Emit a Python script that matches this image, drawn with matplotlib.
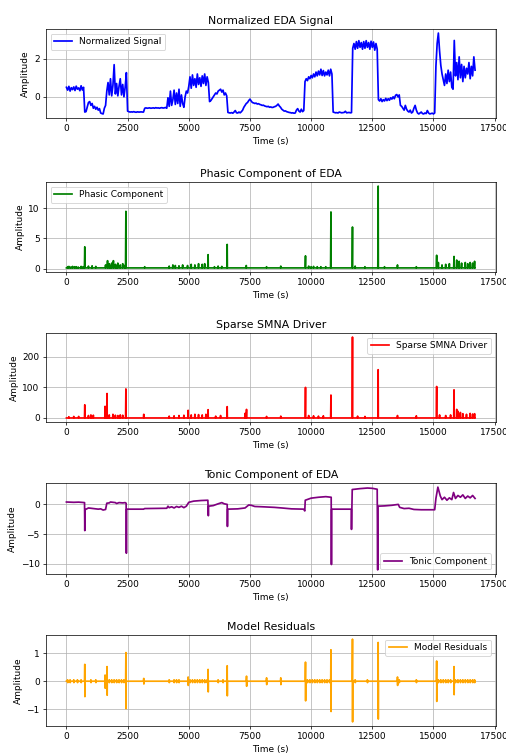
import numpy as np
import matplotlib
matplotlib.use("Agg")
import matplotlib.pyplot as plt

# ---------------------------------------------------------------------------
# Normalized EDA signal, sampled every 50 s from 0 s to 16700 s
# ---------------------------------------------------------------------------
eda_step = 50
eda_norm = [
    0.50, 0.35, 0.55, 0.30, 0.48, 0.38, 0.52, 0.33, 0.56, 0.40,
    0.47, 0.32, 0.58, 0.36, 0.50, -0.80, -0.78, -0.55, -0.30, -0.25,
    -0.45, -0.35, -0.60, -0.50, -0.65, -0.55, -0.70, -0.62, -0.85, -0.88,
    -0.90, -0.60, -0.45, 0.30, 0.75, 0.10, 0.95, 0.05, 0.60, 1.69,
    0.15, 0.70, 0.05, 0.55, 0.95, 0.10, 0.65, 0.00, 0.50, 1.27,
    -0.75, -0.78, -0.80, -0.79, -0.80, -0.78, -0.80, -0.81, -0.79, -0.80,
    -0.80, -0.79, -0.80, -0.80, -0.60, -0.58, -0.60, -0.59, -0.58, -0.60,
    -0.59, -0.58, -0.60, -0.57, -0.59, -0.58, -0.60, -0.58, -0.57, -0.59,
    -0.58, -0.56, -0.60, -0.05, -0.50, 0.30, -0.45, -0.15, 0.35, -0.40,
    0.20, -0.35, 0.40, -0.50, 0.10, -0.35, -0.55, 0.00, 0.30, 0.20,
    0.55, 1.05, 0.45, 1.15, 0.60, 0.95, 0.50, 1.20, 0.65, 1.00,
    0.55, 1.10, 0.70, 1.20, 0.60, 1.05, 0.75, -0.25, -0.20, -0.10,
    0.00, 0.10, 0.20, 0.15, 0.30, 0.35, 0.40, 0.25, 0.35, 0.10,
    0.20, 0.05, -0.82, -0.84, -0.85, -0.83, -0.86, -0.80, -0.72, -0.84,
    -0.85, -0.80, -0.84, -0.78, -0.70, -0.55, -0.45, -0.35, -0.30, -0.20,
    -0.12, -0.22, -0.30, -0.32, -0.35, -0.33, -0.38, -0.36, -0.40, -0.42,
    -0.45, -0.44, -0.48, -0.50, -0.52, -0.50, -0.55, -0.53, -0.56, -0.55,
    -0.52, -0.50, -0.45, -0.38, -0.48, -0.55, -0.65, -0.70, -0.75, -0.74,
    -0.78, -0.80, -0.82, -0.83, -0.85, -0.84, -0.86, -0.85, -0.70, -0.62,
    -0.75, -0.80, -0.65, -0.78, -0.72, 0.80, 0.95, 0.85, 1.05, 0.95,
    1.12, 1.00, 1.20, 1.05, 1.30, 1.10, 1.35, 1.15, 1.45, 1.12,
    1.38, 1.10, 1.30, 1.15, 1.40, 1.10, 1.45, 1.20, -0.80, -0.82,
    -0.84, -0.83, -0.85, -0.80, -0.82, -0.84, -0.83, -0.82, -0.76, -0.84,
    -0.83, -0.82, -0.84, -0.83, 2.55, 2.80, 2.50, 2.90, 2.55, 2.95,
    2.60, 2.85, 2.50, 2.90, 2.55, 2.95, 2.60, 2.85, 2.50, 2.92,
    2.60, 2.88, 2.45, 2.80, 2.50, -0.15, -0.22, -0.10, -0.25, -0.15,
    -0.22, -0.08, -0.20, -0.10, -0.18, -0.05, -0.12, 0.00, -0.10, 0.08,
    0.12, 0.00, 0.10, -0.45, -0.50, -0.60, -0.70, -0.45, -0.65, -0.75,
    -0.80, -0.70, -0.85, -0.80, -0.60, -0.45, -0.70, -0.85, -0.90, -0.85,
    -0.80, -0.88, -0.90, -0.85, -0.88, -0.72, -0.85, -0.90, -0.88, -0.86,
    -0.90, -0.85, 1.60, 2.80, 3.35, 2.40, 1.65, 1.20, 0.90, 0.60,
    1.20, 0.70, 1.40, 0.80, 1.30, 0.50, 0.40, 2.96, 1.10, 1.80,
    0.90, 2.10, 1.00, 1.70, 0.80, 1.60, 1.00, 1.50, 1.20, 1.80,
    0.95, 1.60, 1.10, 2.10, 1.40,
]

# ---------------------------------------------------------------------------
# Phasic component: baseline level plus peak events (time, amplitude)
# ---------------------------------------------------------------------------
phasic_base = 0.1
phasic_t = [50, 100, 180, 250, 330, 400, 480, 600, 680, 750, 900, 1050, 1200,
            1600, 1680, 1750, 1800, 1850, 1920, 2000, 2050, 2100, 2200, 2300,
            2380, 2430, 3200, 4200, 4350, 4450, 4600, 4750, 4950, 5100, 5250,
            5400, 5550, 5650, 5790, 6050, 6200, 6350, 6570, 7350, 8180, 8760,
            9770, 9900, 10000, 10100, 10250, 10400, 10600, 10810, 11690,
            11800, 12200, 12740, 13000, 13530, 14300, 15130, 15200, 15350,
            15500, 15650, 15840, 15950, 16050, 16150, 16300, 16400, 16500,
            16600, 16680]
phasic_v = [0.30, 0.35, 0.25, 0.35, 0.30, 0.30, 0.25, 0.35, 0.30, 3.6, 0.4,
            0.45, 0.35, 0.6, 1.3, 0.8, 0.5, 0.9, 1.3, 0.7, 0.5, 0.9, 0.6,
            0.8, 0.5, 9.5, 0.3, 0.4, 0.6, 0.5, 0.45, 0.6, 0.5, 0.7, 0.6,
            0.8, 0.7, 0.8, 2.3, 0.3, 0.4, 0.35, 4.0, 0.5, 0.3, 0.4,
            2.1, 0.4, 0.3, 0.35, 0.3, 0.3, 0.3, 9.4, 6.9,
            0.4, 0.3, 13.7, 0.3, 0.6, 0.3, 2.2, 1.0, 0.6,
            0.7, 0.8, 2.0, 1.4, 1.2, 0.9, 1.0, 0.8, 1.0,
            0.9, 1.2]

# ---------------------------------------------------------------------------
# Sparse SMNA driver: impulse events (time, amplitude)
# ---------------------------------------------------------------------------
smna_t = [100, 300, 500, 750, 900, 1000, 1100, 1580, 1660, 1750, 1900, 2000,
          2100, 2200, 2300, 2430, 3160, 4200, 4400, 4600, 4800, 4975, 5100,
          5250, 5400, 5550, 5700, 5790, 6100, 6300, 6570, 7300, 7360, 8180,
          8760, 9770, 9900, 10100, 10300, 10500, 10810, 11690, 11900, 12200,
          12740, 13530, 14300, 15130, 15250, 15500, 15700, 15840, 15950,
          16000, 16100, 16200, 16350, 16500, 16600, 16680]
smna_v = [4, 5, 5, 43, 8, 10, 9, 38, 80, 10, 12, 9,
          8, 10, 9, 95, 12, 6, 7, 8, 9, 25, 10,
          12, 11, 10, 12, 27, 6, 8, 37, 15, 28, 5,
          6, 100, 8, 7, 6, 7, 75, 265, 6, 5,
          158, 8, 7, 103, 10, 8, 10, 92, 28,
          22, 18, 14, 12, 15, 13, 14]

# ---------------------------------------------------------------------------
# Tonic component: breakpoints (time, level)
# ---------------------------------------------------------------------------
tonic_t = [0, 300, 500, 740, 750, 760, 900, 1000, 1100, 1200, 1300, 1400,
           1500, 1600, 1650, 1750, 1800, 1900, 2000, 2050, 2150, 2300, 2400,
           2440, 2450, 2460, 3150, 3200, 4100, 4150, 4200, 4300, 4400, 4500,
           4600, 4700, 4800, 4900, 5000, 5200, 5500, 5780, 5800, 5810, 6000,
           6200, 6350, 6450, 6570, 6580, 6590, 7000, 7300, 7450, 7550, 7700,
           8000, 8500, 8800, 9200, 9700, 9740, 9760, 10000, 10300, 10600,
           10820, 10830, 10840, 11640, 11650, 11680, 12000, 12300, 12500,
           12700, 12720, 12730, 13000, 13300, 13560, 13620, 13800, 14000,
           14200, 14500, 15050, 15100, 15180, 15280, 15350, 15450, 15550,
           15650, 15750, 15820, 15900, 16000, 16100, 16200, 16300, 16400,
           16500, 16600, 16700]
tonic_v = [0.40, 0.35, 0.38, 0.30, -4.4, -0.90, -0.60, -0.65, -0.70, -0.75,
           -0.80, -0.75, -0.95, -0.85, 0.20, 0.25, 0.40, 0.35, 0.30, 0.15,
           0.30, 0.25, 0.30, 0.20, -8.2, -0.80, -0.80, -0.70, -0.65, -0.30,
           -0.55, -0.40, -0.60, -0.35, -0.50, -0.30, -0.55, -0.30, 0.35,
           0.55, 0.65, 0.70, -1.9, -0.30, -0.20, 0.10, 0.30, 0.10, 0.00,
           -3.7, -0.80, -0.75, -0.60, -0.10, -0.15, -0.35, -0.40, -0.50,
           -0.60, -0.75, -0.80, -1.10, 0.70, 1.05, 1.20, 1.30, 1.20, -10.1,
           -0.80, -0.80, -4.2, 2.50, 2.65, 2.75, 2.70, 2.55, -11.0, -0.30,
           -0.25, -0.15, 0.00, -0.50, -0.70, -0.65, -0.85, -0.90, -0.90,
           1.00, 2.90, 1.40, 0.80, 1.20, 0.70, 1.10, 0.80, 2.00, 1.00, 1.50,
           1.20, 1.60, 1.00, 1.40, 1.10, 1.50, 1.00]

# ---------------------------------------------------------------------------
# Model residuals: bipolar events (time, positive lobe, negative lobe)
# ---------------------------------------------------------------------------
res_t = [750, 1580, 1660, 2430, 3160, 4975, 5790, 6570, 7360, 8180, 8760,
         9770, 10810, 11690, 12740, 13530, 15130, 15840]
res_up = [0.60, 0.22, 0.52, 1.02, 0.10, 0.15, 0.42, 0.55, 0.18, 0.12, 0.12,
          0.68, 1.12, 1.50, 1.38, 0.15, 0.72, 0.52]
res_dn = [-0.55, -0.25, -0.50, -0.98, -0.10, -0.15, -0.38, -0.52, -0.18,
          -0.12, -0.12, -0.70, -1.08, -1.45, -1.35, -0.15, -0.72, -0.48]
res_small_t = [50, 150, 300, 450, 600, 1000, 1200, 1750, 1850, 1950, 2050,
               2150, 2250, 2350, 4200, 4400, 4500, 4600, 5050, 5150, 5250,
               5350, 5450, 5550, 5650, 5750, 6200, 6400, 9850, 9950, 10050,
               10150, 10250, 10350, 10450, 10550, 10650, 10750, 11800, 12300,
               13600, 14300, 15200, 15300, 15400, 15500, 15600, 15700, 15900,
               16000, 16100, 16200, 16300, 16400, 16500, 16600, 16680]
res_small_a = 0.05


def impulse_line(times, ups, downs, base, half_width):
    """Build a polyline that rises/falls from a baseline at each event."""
    xs, ys = [], []
    order = np.argsort(times)
    for i in order:
        t = times[i]
        xs += [t - half_width, t, t + 0.5 * half_width, t + half_width]
        ys += [base, ups[i], downs[i], base]
    return np.array(xs), np.array(ys)


eda_time = np.arange(len(eda_norm)) * eda_step
t_end = eda_time[-1]

# phasic trace
px, py = impulse_line(phasic_t, phasic_v, [phasic_base] * len(phasic_t),
                      phasic_base, 15)
phasic_x = np.concatenate([[0], px, [t_end]])
phasic_y = np.concatenate([[phasic_base], py, [phasic_base]])

# SMNA trace
sx, sy = impulse_line(smna_t, smna_v, [0] * len(smna_t), 0, 12)
smna_x = np.concatenate([[0], sx, [t_end]])
smna_y = np.concatenate([[0], sy, [0]])

# residual trace
all_rt = list(res_t) + list(res_small_t)
all_up = list(res_up) + [res_small_a] * len(res_small_t)
all_dn = list(res_dn) + [-res_small_a] * len(res_small_t)
rx, ry = impulse_line(all_rt, all_up, all_dn, 0, 10)
res_x = np.concatenate([[0], rx, [t_end]])
res_y = np.concatenate([[0], ry, [0]])

# ---------------------------------------------------------------------------
# Figure
# ---------------------------------------------------------------------------
W, H, DPI = 506, 756, 65
fig = plt.figure(figsize=(W / DPI, H / DPI), dpi=DPI)

left_px, right_px = 46, 495.5
rows_px = [(29, 118), (182, 272), (333, 422), (483, 574), (635, 726)]

panels = [
    (eda_time, np.array(eda_norm), "blue", "Normalized Signal",
     "Normalized EDA Signal", "upper left"),
    (phasic_x, phasic_y, "green", "Phasic Component",
     "Phasic Component of EDA", "upper left"),
    (smna_x, smna_y, "red", "Sparse SMNA Driver",
     "Sparse SMNA Driver", "upper right"),
    (np.array(tonic_t), np.array(tonic_v), "purple", "Tonic Component",
     "Tonic Component of EDA", "lower right"),
    (res_x, res_y, "orange", "Model Residuals",
     "Model Residuals", "upper right"),
]

for (top, bot), (x, y, color, label, title, loc) in zip(rows_px, panels):
    ax = fig.add_axes([left_px / W, 1 - bot / H,
                       (right_px - left_px) / W, (bot - top) / H])
    ax.plot(x, y, color=color, label=label, linewidth=1.9)
    ax.set_title(title)
    ax.set_xlabel("Time (s)")
    ax.set_ylabel("Amplitude")
    ax.grid(True)
    ax.legend(loc=loc)
    ax.set_xticks([0, 2500, 5000, 7500, 10000, 12500, 15000, 17500])
    ax.set_xlim(-835, 17535)

fig.savefig("out.png", dpi=DPI)
